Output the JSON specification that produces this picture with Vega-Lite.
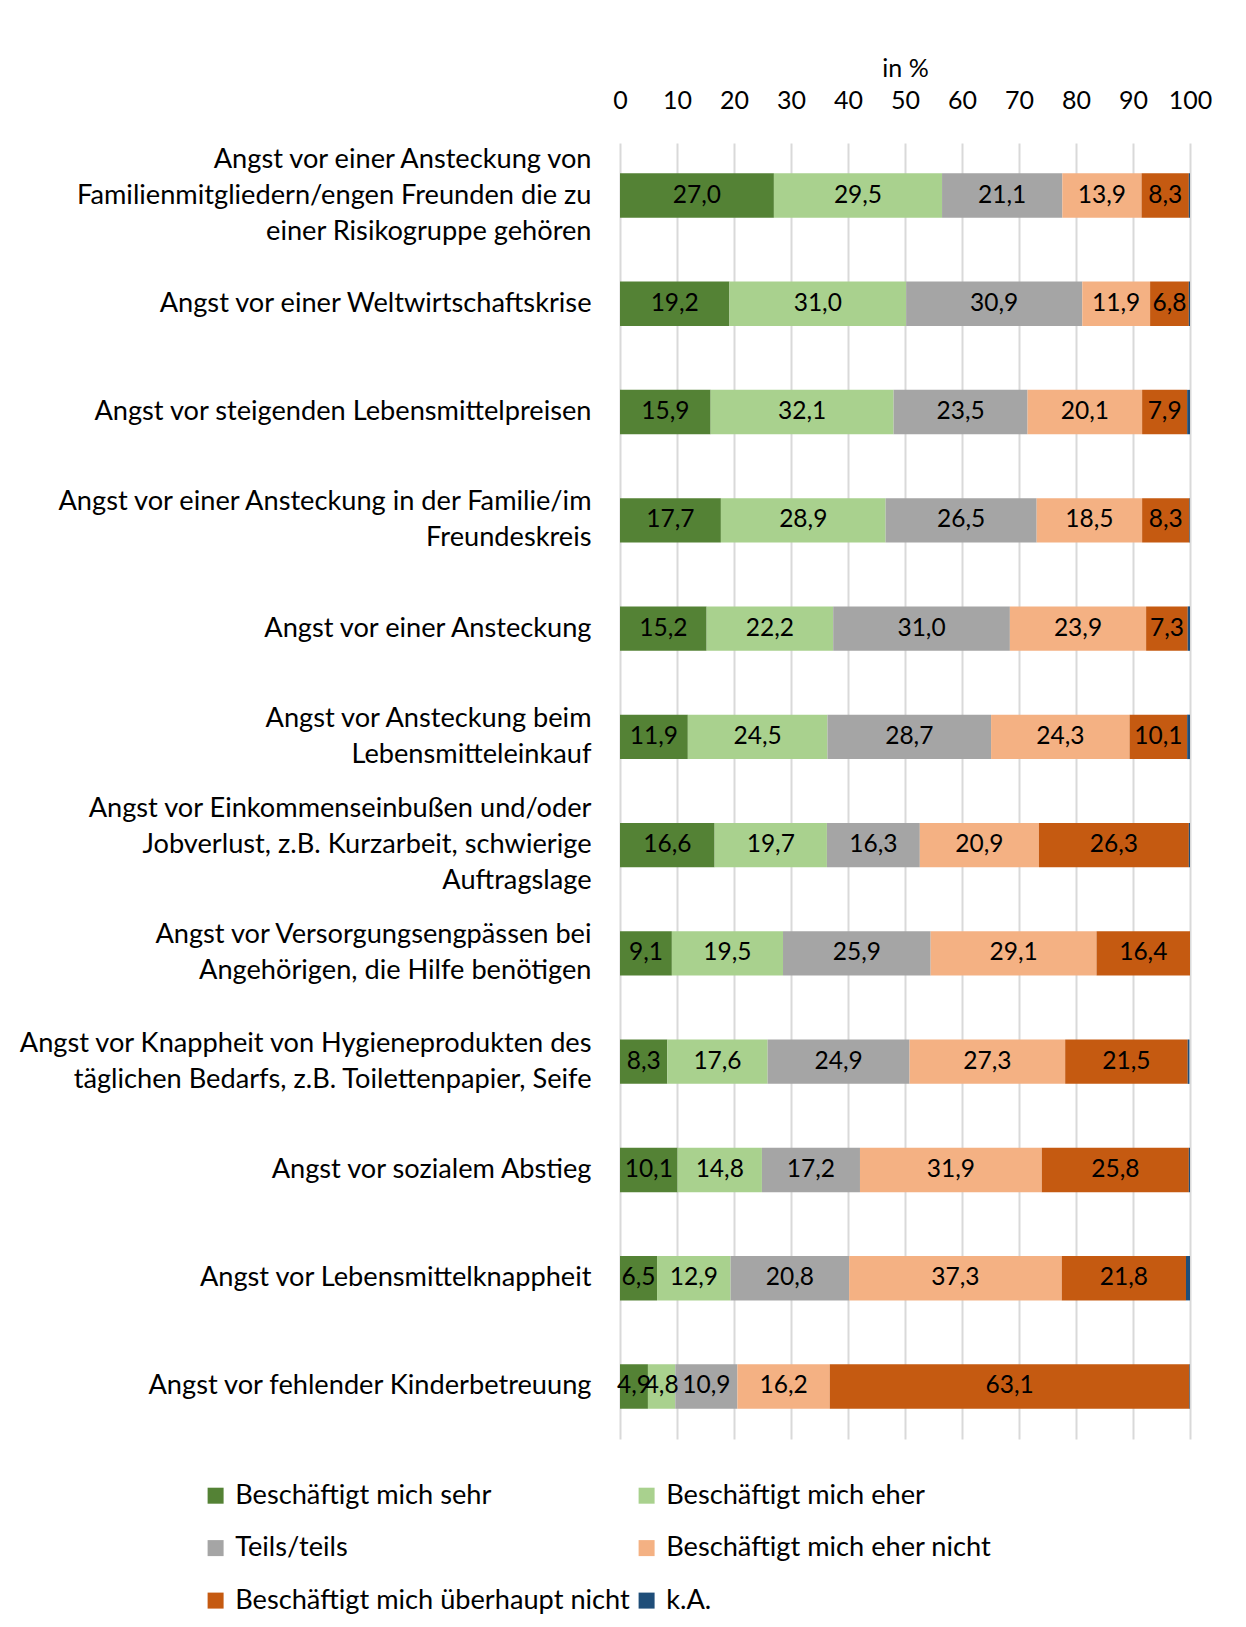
{
  "$schema": "https://vega.github.io/schema/vega-lite/v6.json",
  "autosize": {"type": "none"},
  "padding": {"left": 620, "top": 143, "right": 56, "bottom": 188},
  "width": 570,
  "height": 1296,
  "background": "white",
  "config": {
    "font": "Lato",
    "view": {"stroke": null},
    "locale": {"number": {"decimal": ",", "thousands": ".", "grouping": [3], "currency": ["", " €"]}}
  },
  "data": {"values": [
    {"item": "Angst vor einer Ansteckung von|Familienmitgliedern/engen Freunden die zu|einer Risikogruppe gehören", "k": "Beschäftigt mich sehr", "o": 1, "v": 27.0},
    {"item": "Angst vor einer Ansteckung von|Familienmitgliedern/engen Freunden die zu|einer Risikogruppe gehören", "k": "Beschäftigt mich eher", "o": 2, "v": 29.5},
    {"item": "Angst vor einer Ansteckung von|Familienmitgliedern/engen Freunden die zu|einer Risikogruppe gehören", "k": "Teils/teils", "o": 3, "v": 21.1},
    {"item": "Angst vor einer Ansteckung von|Familienmitgliedern/engen Freunden die zu|einer Risikogruppe gehören", "k": "Beschäftigt mich eher nicht", "o": 4, "v": 13.9},
    {"item": "Angst vor einer Ansteckung von|Familienmitgliedern/engen Freunden die zu|einer Risikogruppe gehören", "k": "Beschäftigt mich überhaupt nicht", "o": 5, "v": 8.3},
    {"item": "Angst vor einer Ansteckung von|Familienmitgliedern/engen Freunden die zu|einer Risikogruppe gehören", "k": "k.A.", "o": 6, "v": 0.2},

    {"item": "Angst vor einer Weltwirtschaftskrise", "k": "Beschäftigt mich sehr", "o": 1, "v": 19.2},
    {"item": "Angst vor einer Weltwirtschaftskrise", "k": "Beschäftigt mich eher", "o": 2, "v": 31.0},
    {"item": "Angst vor einer Weltwirtschaftskrise", "k": "Teils/teils", "o": 3, "v": 30.9},
    {"item": "Angst vor einer Weltwirtschaftskrise", "k": "Beschäftigt mich eher nicht", "o": 4, "v": 11.9},
    {"item": "Angst vor einer Weltwirtschaftskrise", "k": "Beschäftigt mich überhaupt nicht", "o": 5, "v": 6.8},
    {"item": "Angst vor einer Weltwirtschaftskrise", "k": "k.A.", "o": 6, "v": 0.2},

    {"item": "Angst vor steigenden Lebensmittelpreisen", "k": "Beschäftigt mich sehr", "o": 1, "v": 15.9},
    {"item": "Angst vor steigenden Lebensmittelpreisen", "k": "Beschäftigt mich eher", "o": 2, "v": 32.1},
    {"item": "Angst vor steigenden Lebensmittelpreisen", "k": "Teils/teils", "o": 3, "v": 23.5},
    {"item": "Angst vor steigenden Lebensmittelpreisen", "k": "Beschäftigt mich eher nicht", "o": 4, "v": 20.1},
    {"item": "Angst vor steigenden Lebensmittelpreisen", "k": "Beschäftigt mich überhaupt nicht", "o": 5, "v": 7.9},
    {"item": "Angst vor steigenden Lebensmittelpreisen", "k": "k.A.", "o": 6, "v": 0.5},

    {"item": "Angst vor einer Ansteckung in der Familie/im|Freundeskreis", "k": "Beschäftigt mich sehr", "o": 1, "v": 17.7},
    {"item": "Angst vor einer Ansteckung in der Familie/im|Freundeskreis", "k": "Beschäftigt mich eher", "o": 2, "v": 28.9},
    {"item": "Angst vor einer Ansteckung in der Familie/im|Freundeskreis", "k": "Teils/teils", "o": 3, "v": 26.5},
    {"item": "Angst vor einer Ansteckung in der Familie/im|Freundeskreis", "k": "Beschäftigt mich eher nicht", "o": 4, "v": 18.5},
    {"item": "Angst vor einer Ansteckung in der Familie/im|Freundeskreis", "k": "Beschäftigt mich überhaupt nicht", "o": 5, "v": 8.3},
    {"item": "Angst vor einer Ansteckung in der Familie/im|Freundeskreis", "k": "k.A.", "o": 6, "v": 0.1},

    {"item": "Angst vor einer Ansteckung", "k": "Beschäftigt mich sehr", "o": 1, "v": 15.2},
    {"item": "Angst vor einer Ansteckung", "k": "Beschäftigt mich eher", "o": 2, "v": 22.2},
    {"item": "Angst vor einer Ansteckung", "k": "Teils/teils", "o": 3, "v": 31.0},
    {"item": "Angst vor einer Ansteckung", "k": "Beschäftigt mich eher nicht", "o": 4, "v": 23.9},
    {"item": "Angst vor einer Ansteckung", "k": "Beschäftigt mich überhaupt nicht", "o": 5, "v": 7.3},
    {"item": "Angst vor einer Ansteckung", "k": "k.A.", "o": 6, "v": 0.4},

    {"item": "Angst vor Ansteckung beim|Lebensmitteleinkauf", "k": "Beschäftigt mich sehr", "o": 1, "v": 11.9},
    {"item": "Angst vor Ansteckung beim|Lebensmitteleinkauf", "k": "Beschäftigt mich eher", "o": 2, "v": 24.5},
    {"item": "Angst vor Ansteckung beim|Lebensmitteleinkauf", "k": "Teils/teils", "o": 3, "v": 28.7},
    {"item": "Angst vor Ansteckung beim|Lebensmitteleinkauf", "k": "Beschäftigt mich eher nicht", "o": 4, "v": 24.3},
    {"item": "Angst vor Ansteckung beim|Lebensmitteleinkauf", "k": "Beschäftigt mich überhaupt nicht", "o": 5, "v": 10.1},
    {"item": "Angst vor Ansteckung beim|Lebensmitteleinkauf", "k": "k.A.", "o": 6, "v": 0.5},

    {"item": "Angst vor Einkommenseinbußen und/oder|Jobverlust, z.B. Kurzarbeit, schwierige|Auftragslage", "k": "Beschäftigt mich sehr", "o": 1, "v": 16.6},
    {"item": "Angst vor Einkommenseinbußen und/oder|Jobverlust, z.B. Kurzarbeit, schwierige|Auftragslage", "k": "Beschäftigt mich eher", "o": 2, "v": 19.7},
    {"item": "Angst vor Einkommenseinbußen und/oder|Jobverlust, z.B. Kurzarbeit, schwierige|Auftragslage", "k": "Teils/teils", "o": 3, "v": 16.3},
    {"item": "Angst vor Einkommenseinbußen und/oder|Jobverlust, z.B. Kurzarbeit, schwierige|Auftragslage", "k": "Beschäftigt mich eher nicht", "o": 4, "v": 20.9},
    {"item": "Angst vor Einkommenseinbußen und/oder|Jobverlust, z.B. Kurzarbeit, schwierige|Auftragslage", "k": "Beschäftigt mich überhaupt nicht", "o": 5, "v": 26.3},
    {"item": "Angst vor Einkommenseinbußen und/oder|Jobverlust, z.B. Kurzarbeit, schwierige|Auftragslage", "k": "k.A.", "o": 6, "v": 0.2},

    {"item": "Angst vor Versorgungsengpässen bei|Angehörigen, die Hilfe benötigen", "k": "Beschäftigt mich sehr", "o": 1, "v": 9.1},
    {"item": "Angst vor Versorgungsengpässen bei|Angehörigen, die Hilfe benötigen", "k": "Beschäftigt mich eher", "o": 2, "v": 19.5},
    {"item": "Angst vor Versorgungsengpässen bei|Angehörigen, die Hilfe benötigen", "k": "Teils/teils", "o": 3, "v": 25.9},
    {"item": "Angst vor Versorgungsengpässen bei|Angehörigen, die Hilfe benötigen", "k": "Beschäftigt mich eher nicht", "o": 4, "v": 29.1},
    {"item": "Angst vor Versorgungsengpässen bei|Angehörigen, die Hilfe benötigen", "k": "Beschäftigt mich überhaupt nicht", "o": 5, "v": 16.4},
    {"item": "Angst vor Versorgungsengpässen bei|Angehörigen, die Hilfe benötigen", "k": "k.A.", "o": 6, "v": 0.0},

    {"item": "Angst vor Knappheit von Hygieneprodukten des|täglichen Bedarfs, z.B. Toilettenpapier, Seife", "k": "Beschäftigt mich sehr", "o": 1, "v": 8.3},
    {"item": "Angst vor Knappheit von Hygieneprodukten des|täglichen Bedarfs, z.B. Toilettenpapier, Seife", "k": "Beschäftigt mich eher", "o": 2, "v": 17.6},
    {"item": "Angst vor Knappheit von Hygieneprodukten des|täglichen Bedarfs, z.B. Toilettenpapier, Seife", "k": "Teils/teils", "o": 3, "v": 24.9},
    {"item": "Angst vor Knappheit von Hygieneprodukten des|täglichen Bedarfs, z.B. Toilettenpapier, Seife", "k": "Beschäftigt mich eher nicht", "o": 4, "v": 27.3},
    {"item": "Angst vor Knappheit von Hygieneprodukten des|täglichen Bedarfs, z.B. Toilettenpapier, Seife", "k": "Beschäftigt mich überhaupt nicht", "o": 5, "v": 21.5},
    {"item": "Angst vor Knappheit von Hygieneprodukten des|täglichen Bedarfs, z.B. Toilettenpapier, Seife", "k": "k.A.", "o": 6, "v": 0.3},

    {"item": "Angst vor sozialem Abstieg", "k": "Beschäftigt mich sehr", "o": 1, "v": 10.1},
    {"item": "Angst vor sozialem Abstieg", "k": "Beschäftigt mich eher", "o": 2, "v": 14.8},
    {"item": "Angst vor sozialem Abstieg", "k": "Teils/teils", "o": 3, "v": 17.2},
    {"item": "Angst vor sozialem Abstieg", "k": "Beschäftigt mich eher nicht", "o": 4, "v": 31.9},
    {"item": "Angst vor sozialem Abstieg", "k": "Beschäftigt mich überhaupt nicht", "o": 5, "v": 25.8},
    {"item": "Angst vor sozialem Abstieg", "k": "k.A.", "o": 6, "v": 0.2},

    {"item": "Angst vor Lebensmittelknappheit", "k": "Beschäftigt mich sehr", "o": 1, "v": 6.5},
    {"item": "Angst vor Lebensmittelknappheit", "k": "Beschäftigt mich eher", "o": 2, "v": 12.9},
    {"item": "Angst vor Lebensmittelknappheit", "k": "Teils/teils", "o": 3, "v": 20.8},
    {"item": "Angst vor Lebensmittelknappheit", "k": "Beschäftigt mich eher nicht", "o": 4, "v": 37.3},
    {"item": "Angst vor Lebensmittelknappheit", "k": "Beschäftigt mich überhaupt nicht", "o": 5, "v": 21.8},
    {"item": "Angst vor Lebensmittelknappheit", "k": "k.A.", "o": 6, "v": 0.7},

    {"item": "Angst vor fehlender Kinderbetreuung", "k": "Beschäftigt mich sehr", "o": 1, "v": 4.9},
    {"item": "Angst vor fehlender Kinderbetreuung", "k": "Beschäftigt mich eher", "o": 2, "v": 4.8},
    {"item": "Angst vor fehlender Kinderbetreuung", "k": "Teils/teils", "o": 3, "v": 10.9},
    {"item": "Angst vor fehlender Kinderbetreuung", "k": "Beschäftigt mich eher nicht", "o": 4, "v": 16.2},
    {"item": "Angst vor fehlender Kinderbetreuung", "k": "Beschäftigt mich überhaupt nicht", "o": 5, "v": 63.1},
    {"item": "Angst vor fehlender Kinderbetreuung", "k": "k.A.", "o": 6, "v": 0.1}
  ]},
  "transform": [
    {"stack": "v", "groupby": ["item"], "sort": [{"field": "o", "order": "ascending"}], "as": ["x0", "x1"]},
    {"calculate": "(datum.x0 + datum.x1) / 2", "as": "xm"}
  ],
  "encoding": {
    "y": {
      "field": "item", "type": "nominal", "sort": null,
      "scale": {"paddingInner": 0.59, "paddingOuter": 0.28},
      "axis": {
        "title": null, "domain": false, "ticks": false,
        "labelExpr": "split(datum.label, '|')",
        "labelFontSize": 27.2, "labelColor": "#000000", "labelPadding": 29,
        "labelLineHeight": 36, "labelLimit": 700, "labelAlign": "right", "labelBaseline": "middle",
        "labelOffset": {
          "condition": [
            {"test": "length(split(datum.value, '|')) == 3", "value": -36},
            {"test": "length(split(datum.value, '|')) == 2", "value": -18}
          ],
          "value": 0
        }
      }
    }
  },
  "layer": [
    {
      "mark": {"type": "bar"},
      "encoding": {
        "x": {
          "field": "x0", "type": "quantitative",
          "scale": {"domain": [0, 100], "nice": false},
          "axis": {
            "orient": "top", "values": [0, 10, 20, 30, 40, 50, 60, 70, 80, 90, 100],
            "title": "in %", "titleFontSize": 25, "titleFontWeight": "normal", "titleColor": "#000000",
            "titlePadding": 7,
            "labelFontSize": 25, "labelColor": "#000000", "labelPadding": 30,
            "labelFlush": false, "labelOverlap": false,
            "domain": false, "ticks": false,
            "grid": true, "gridColor": "#d9d9d9", "gridWidth": 2
          }
        },
        "x2": {"field": "x1"},
        "color": {
          "field": "k", "type": "nominal",
          "scale": {
            "domain": ["Beschäftigt mich sehr", "Beschäftigt mich eher", "Teils/teils", "Beschäftigt mich eher nicht", "Beschäftigt mich überhaupt nicht", "k.A."],
            "range": ["#548235", "#A9D18E", "#A5A5A5", "#F4B183", "#C55A11", "#1F4E79"]
          },
          "legend": {
            "title": null, "orient": "none", "columns": 2, "direction": "horizontal",
            "legendX": -418, "legendY": 1339,
            "symbolType": "square", "symbolSize": 256, "symbolStrokeWidth": 0,
            "labelFontSize": 27.2, "labelColor": "#000000", "labelOffset": 6, "labelLimit": 600,
            "rowPadding": 24.5, "columnPadding": 3
          }
        }
      }
    },
    {
      "transform": [{"filter": "datum.k != 'k.A.'"}],
      "mark": {"type": "text", "fontSize": 24.5, "color": "#000000", "align": "center", "baseline": "middle"},
      "encoding": {
        "x": {"field": "xm", "type": "quantitative"},
        "text": {"field": "v", "type": "quantitative", "format": ".1f"}
      }
    }
  ]
}
